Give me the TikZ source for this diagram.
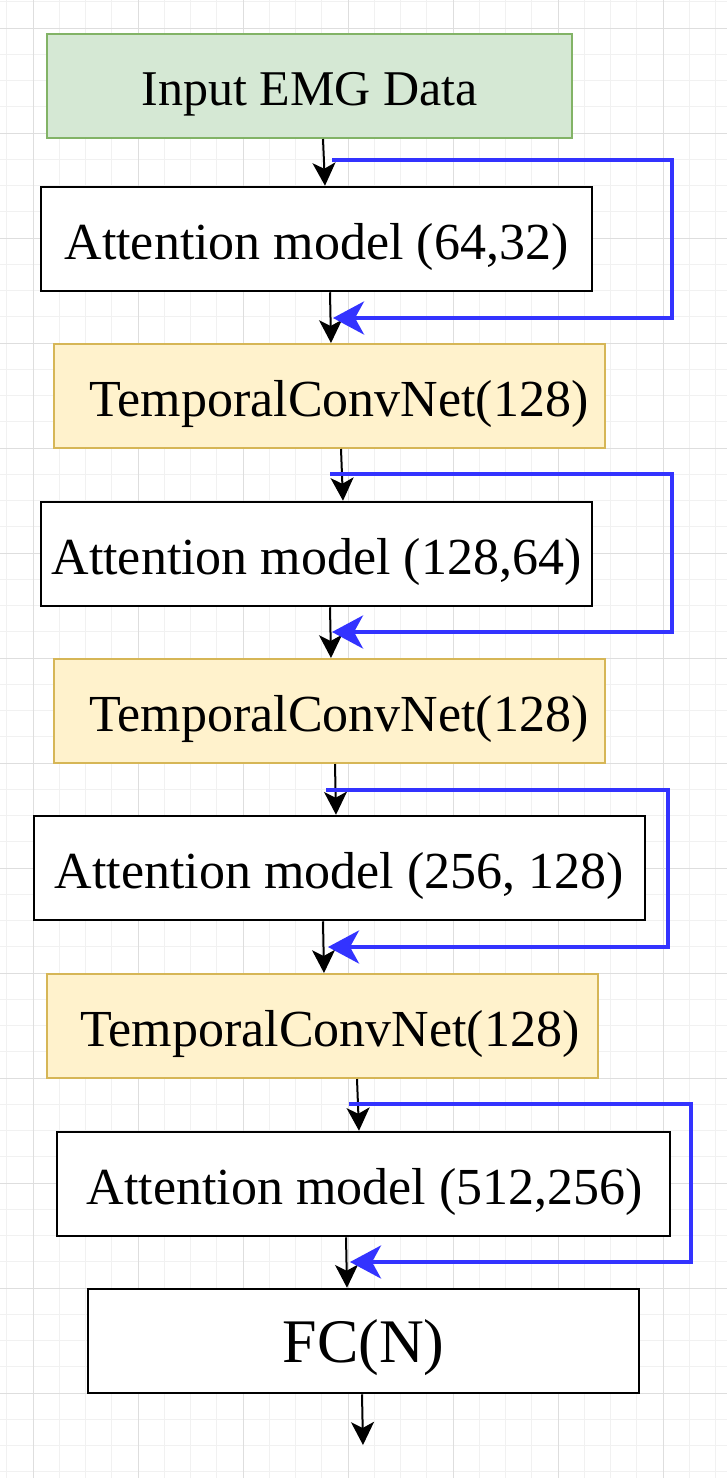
\documentclass[tikz,border=0pt]{standalone}
\usepackage{fontspec}
\setmainfont{Liberation Serif}
\usetikzlibrary{arrows.meta}
\definecolor{gridminor}{RGB}{241,241,241}
\definecolor{gridmajor}{RGB}{222,222,222}
\definecolor{greenfill}{HTML}{D5E8D4}
\definecolor{greenline}{HTML}{82B366}
\definecolor{yellowfill}{HTML}{FFF2CC}
\definecolor{yellowline}{HTML}{D6B656}
\definecolor{loopblue}{RGB}{51,51,255}
\begin{document}
\begin{tikzpicture}[x=1pt,y=-1pt,
  boxbase/.style={rectangle, minimum height=104pt, inner sep=0pt, anchor=center, text height=50pt, text depth=10pt},
  inbox/.style={boxbase, fill=greenfill, draw=greenline, line width=2pt, minimum width=525pt, font=\fontsize{50}{60}\selectfont, text height=48pt, text depth=10pt},
  attbox/.style={boxbase, fill=white, draw=black, line width=2.5pt, font=\fontsize{52}{62}\selectfont},
  tcnbox/.style={boxbase, fill=yellowfill, draw=yellowline, line width=2pt, minimum width=551pt, font=\fontsize{52}{62}\selectfont},
  fcbox/.style={boxbase, fill=white, draw=black, line width=2.5pt, minimum width=551pt, font=\fontsize{62}{72}\selectfont, text height=54pt, text depth=12pt},
  flow/.style={draw=black, line width=2pt, -{Stealth[length=23pt,width=23pt,inset=6pt]}},
  skip/.style={draw=loopblue, line width=4pt, line join=miter, -{Stealth[length=31pt,width=33pt,inset=9pt]}}
]
\useasboundingbox (0,0) rectangle (727,1478);
\fill[white] (0,0) rectangle (727,1478);
% grid
\foreach \i in {0,...,27} {\draw[gridminor, line width=1pt] ({6.75+26.25*\i},0) -- ({6.75+26.25*\i},1478);}
\foreach \i in {0,...,56} {\draw[gridminor, line width=1pt] (0,{1.75+26.25*\i}) -- (727,{1.75+26.25*\i});}
\foreach \i in {0,...,6} {\draw[gridmajor, line width=1pt] ({33+105*\i},0) -- ({33+105*\i},1478);}
\foreach \i in {0,...,13} {\draw[gridmajor, line width=1pt] (0,{28+105*\i}) -- (727,{28+105*\i});}

% boxes
\node[inbox] (inp) at (309.5,86) {Input EMG Data};
\node[attbox, minimum width=551pt] (att1) at (316.5,239) {Attention model (64,32)};
\node[tcnbox] (tcn1) at (329.5,396) {\hspace*{19pt}TemporalConvNet(128)};
\node[attbox, minimum width=551pt] (att2) at (316.5,554) {Attention model (128,64)};
\node[tcnbox] (tcn2) at (329.5,711) {\hspace*{19pt}TemporalConvNet(128)};
\node[attbox, minimum width=611pt] (att3) at (339.5,868) {Attention model (256, 128)};
\node[tcnbox] (tcn3) at (322.5,1026) {\hspace*{15pt}TemporalConvNet(128)};
\node[attbox, minimum width=613pt] (att4) at (363.5,1184) {\hspace*{3pt}Attention model (512,256)};
\node[fcbox] (fc) at (363.5,1341) {FC(N)};
\coordinate (out) at (363,1445);

% main flow
\draw[flow] ([xshift=13.5pt]inp.south) -- ([xshift=8.5pt]att1.north);
\draw[flow] ([xshift=13.5pt]att1.south) -- ([xshift=1.5pt]tcn1.north);
\draw[flow] ([xshift=11.5pt]tcn1.south) -- ([xshift=26.5pt]att2.north);
\draw[flow] ([xshift=13.5pt]att2.south) -- ([xshift=1.5pt]tcn2.north);
\draw[flow] ([xshift=5.5pt]tcn2.south) -- ([xshift=-3.5pt]att3.north);
\draw[flow] ([xshift=-16.5pt]att3.south) -- ([xshift=1.5pt]tcn3.north);
\draw[flow] ([xshift=34.5pt]tcn3.south) -- ([xshift=-4.5pt]att4.north);
\draw[flow] ([xshift=-17.5pt]att4.south) -- ([xshift=-16.5pt]fc.north);
\draw[flow] ([xshift=-1.5pt]fc.south) -- (out);

% residual loops
\coordinate (s1) at (332,160); \coordinate (e1) at (333,318);
\coordinate (s2) at (330,474); \coordinate (e2) at (332,632);
\coordinate (s3) at (326,790); \coordinate (e3) at (328,947);
\coordinate (s4) at (349,1104); \coordinate (e4) at (350,1262);
\draw[skip] (s1) -- (672,160) -- (672,318) -- (e1);
\draw[skip] (s2) -- (672,474) -- (672,632) -- (e2);
\draw[skip] (s3) -- (668,790) -- (668,947) -- (e3);
\draw[skip] (s4) -- (691,1104) -- (691,1262) -- (e4);
\end{tikzpicture}
\end{document}
